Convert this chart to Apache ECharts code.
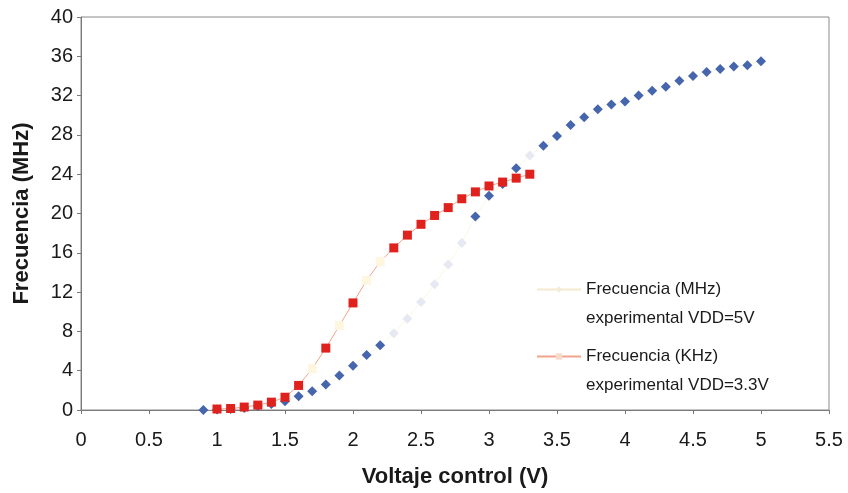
<!DOCTYPE html>
<html>
<head>
<meta charset="utf-8">
<script src="https://cdn.jsdelivr.net/npm/echarts@6/dist/echarts.min.js"></script>
<style>
  html, body { margin: 0; padding: 0; background: #ffffff; }
  #chart { width: 848px; height: 493px; }
</style>
</head>
<body>
<div id="chart"></div>
<script>
// Control voltage (V) for each series
const voltage5V = [0.9, 1.0, 1.1, 1.2, 1.3, 1.4, 1.5, 1.6, 1.7, 1.8, 1.9, 2.0, 2.1, 2.2, 2.3, 2.4, 2.5, 2.6, 2.7, 2.8, 2.9,
  3.0, 3.1, 3.2, 3.3, 3.4, 3.5, 3.6, 3.7, 3.8, 3.9, 4.0, 4.1, 4.2, 4.3, 4.4, 4.5, 4.6, 4.7, 4.8, 4.9, 5.0];
const freq5V = [0, 0.05, 0.1, 0.2, 0.4, 0.6, 0.9, 1.4, 1.9, 2.6, 3.5, 4.5, 5.6, 6.6, 7.8, 9.3, 11.0, 12.8, 14.8, 17.0, 19.7,
  21.8, 23.0, 24.6, 25.9, 26.9, 27.9, 29.0, 29.8, 30.6, 31.1, 31.4, 32.0, 32.5, 32.9, 33.5, 34.0, 34.4, 34.7, 34.95, 35.1, 35.5];

const voltage33V = [1.0, 1.1, 1.2, 1.3, 1.4, 1.5, 1.6, 1.7, 1.8, 1.9, 2.0, 2.1, 2.2, 2.3, 2.4, 2.5, 2.6, 2.7, 2.8, 2.9,
  3.0, 3.1, 3.2, 3.3];
const freq33V = [0.1, 0.15, 0.3, 0.5, 0.8, 1.3, 2.5, 4.2, 6.3, 8.6, 10.9, 13.2, 15.1, 16.5, 17.8, 18.9, 19.8, 20.6, 21.5, 22.2,
  22.8, 23.2, 23.6, 24.0];

// Axis tick labels
const xTicks = ['0', '0.5', '1', '1.5', '2', '2.5', '3', '3.5', '4', '4.5', '5', '5.5'];
const yTicks = ['0', '4', '8', '12', '16', '20', '24', '28', '32', '36', '40'];

const seriesNames = [
  'Frecuencia (MHz)\nexperimental VDD=5V',
  'Frecuencia (KHz)\nexperimental VDD=3.3V'
];

// Washed-out markers (voltages at which the dot prints pale)
const paleAt5V = [2.3, 2.4, 2.5, 2.6, 2.7, 2.8, 3.3];
const paleAt33V = [1.7, 1.9, 2.1, 2.2];

function buildPoints(xs, ys, pale, paleColor) {
  return xs.map((x, i) => {
    const p = { value: [x, ys[i]] };
    if (pale.indexOf(x) >= 0) p.itemStyle = { color: paleColor };
    return p;
  });
}

const chart = echarts.init(document.getElementById('chart'), null, { renderer: 'canvas' });
const font = 'Liberation Sans, Arial, sans-serif';

// One legend block per series; a blank leading line keeps the key beside the first text line
function legendBlock(idx, top, lineColor, dotColor) {
  return {
    orient: 'vertical',
    left: 536, top: top,
    padding: 0,
    itemWidth: 44, itemHeight: 8,
    data: [{ name: seriesNames[idx], itemStyle: { color: dotColor }, lineStyle: { color: lineColor } }],
    formatter: name => ' \n' + name,
    textStyle: { fontSize: 17, color: '#1a1a1a', fontFamily: font, lineHeight: 29 }
  };
}

chart.setOption({
  backgroundColor: '#ffffff',
  animation: false,
  textStyle: { fontFamily: font },
  grid: {
    left: 81, right: 19, top: 17, bottom: 82,
    show: true, borderColor: '#8a8a8a', borderWidth: 1
  },
  legend: [
    legendBlock(0, 246, '#f3ead0', '#f3ecd8'),
    legendBlock(1, 313, '#f2a48a', '#f8dccb')
  ],
  xAxis: {
    type: 'value',
    min: 0, max: 5.5, interval: 0.5,
    name: 'Voltaje control (V)',
    nameLocation: 'middle', nameGap: 56,
    nameTextStyle: { fontSize: 22, fontWeight: 'bold', color: '#1a1a1a' },
    axisLine: { show: true, lineStyle: { color: '#7a7a7a' } },
    axisTick: { show: true, inside: false, length: 4, lineStyle: { color: '#7a7a7a' } },
    axisLabel: {
      fontSize: 20, color: '#1a1a1a', margin: 20,
      formatter: v => xTicks[Math.round(v / 0.5)]
    },
    splitLine: { show: false }
  },
  yAxis: {
    type: 'value',
    min: 0, max: 40, interval: 4,
    name: 'Frecuencia (MHz)',
    nameLocation: 'middle', nameGap: 48, nameRotate: 90,
    nameTextStyle: { fontSize: 22, fontWeight: 'bold', color: '#1a1a1a' },
    axisLine: { show: true, lineStyle: { color: '#7a7a7a' } },
    axisTick: { show: true, inside: false, length: 4, lineStyle: { color: '#7a7a7a' } },
    axisLabel: {
      fontSize: 20, color: '#1a1a1a', margin: 8,
      formatter: v => yTicks[Math.round(v / 4)]
    },
    splitLine: { show: false }
  },
  series: [
    {
      name: seriesNames[0],
      type: 'line',
      data: buildPoints(voltage5V, freq5V, paleAt5V, '#e6e9f2'),
      symbol: 'diamond',
      symbolSize: 10,
      lineStyle: { color: '#fbf6e2', width: 1 },
      itemStyle: { color: '#4565ad' },
      z: 3
    },
    {
      name: seriesNames[1],
      type: 'line',
      data: buildPoints(voltage33V, freq33V, paleAt33V, '#fff6e0'),
      symbol: 'rect',
      symbolSize: 9,
      lineStyle: { color: '#f2a48a', width: 1 },
      itemStyle: { color: '#e0221e' },
      z: 4
    }
  ]
});
</script>
</body>
</html>
